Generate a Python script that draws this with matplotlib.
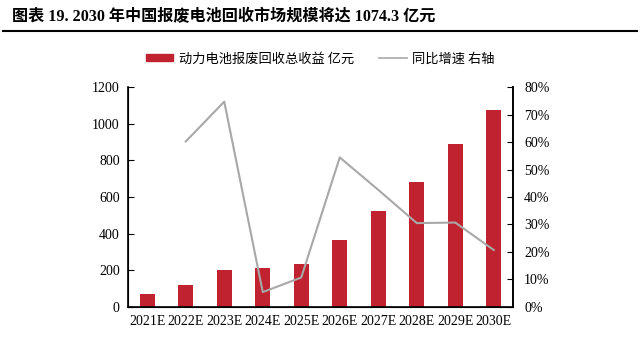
import matplotlib
matplotlib.use("Agg")
import matplotlib.pyplot as plt
from matplotlib.lines import Line2D
from matplotlib.patches import Patch
from matplotlib.ticker import PercentFormatter

plt.rcParams['font.family'] = ['Liberation Serif', 'Noto Sans CJK SC']

years = ['2021E', '2022E', '2023E', '2024E', '2025E', '2026E', '2027E', '2028E', '2029E', '2030E']
revenue = [73, 117, 203, 214, 237, 366, 522, 681, 890, 1074.3]
growth = [None, 60.2, 74.7, 5.4, 10.7, 54.4, 42.6, 30.5, 30.7, 20.7]

bar_color = '#C0222F'
line_color = '#A8A8A8'
cjk = ['Noto Sans CJK SC']

fig = plt.figure(figsize=(6.4, 3.54), dpi=100)
ax = fig.add_axes([0.2, 0.133, 0.6016, 0.621])

x = list(range(len(years)))
ax.bar(x, revenue, width=0.39, color=bar_color, zorder=2)
ax.set_xlim(-0.5, len(years) - 0.5)
ax.set_ylim(0, 1200)
ax.set_yticks(range(0, 1201, 200))
ax.set_xticks(x)
ax.set_xticklabels(years, fontsize=10)
ax.tick_params(axis='x', length=0, pad=6)
ax.tick_params(axis='y', direction='in', length=4, labelsize=10, pad=6)
ax.spines['top'].set_visible(False)
for s in ['left', 'bottom', 'right']:
    ax.spines[s].set_linewidth(1.2)

ax2 = ax.twinx()
gx = [i for i, g in zip(x, growth) if g is not None]
gy = [g for g in growth if g is not None]
ax2.plot(gx, gy, color=line_color, lw=1.5, zorder=3)
ax2.set_ylim(0, 80)
ax2.set_yticks(range(0, 81, 10))
ax2.yaxis.set_major_formatter(PercentFormatter(decimals=0))
ax2.tick_params(axis='y', direction='in', length=4, labelsize=10, pad=8)
ax2.spines['top'].set_visible(False)
ax2.spines['right'].set_linewidth(1.2)

handles = [Patch(color=bar_color), Line2D([], [], color=line_color, lw=1.2)]
labels = ['动力电池报废回收总收益 亿元', '同比增速 右轴']
fig.legend(handles, labels, loc='center', bbox_to_anchor=(0.5, 0.833), ncol=2,
           frameon=False, prop={'family': cjk, 'size': 9.5},
           handlelength=2.1, handleheight=0.45, columnspacing=1.9, handletextpad=0.4)

fig.text(0.018, 0.953, '图表 19. 2030 年中国报废电池回收市场规模将达 1074.3 亿元',
         fontsize=11.6, fontweight='bold', va='center', ha='left',
         family=['Liberation Serif', 'Noto Sans CJK SC'])
fig.add_artist(Line2D([0.005, 0.995], [0.912, 0.912], color='black', lw=1.5))

fig.savefig('out.png', dpi=100)
